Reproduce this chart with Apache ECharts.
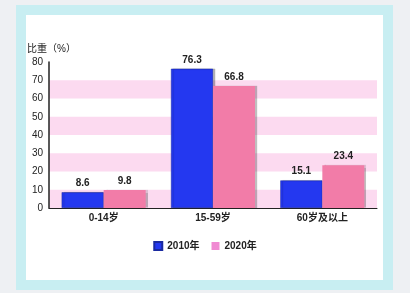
<!DOCTYPE html>
<html><head><meta charset="utf-8">
<script src="https://cdn.jsdelivr.net/npm/echarts@6/dist/echarts.min.js"></script>
<style>
html,body{margin:0;padding:0;background:#eef0f3;}
#frame{position:absolute;left:16px;top:5px;width:377px;height:285px;background:#c8eef2;}
#panel{position:absolute;left:26px;top:15px;width:357px;height:265px;background:#fff;}
#c{position:absolute;left:0;top:0;width:410px;height:293px;}
</style></head>
<body>
<div id="frame"></div><div id="panel"></div>
<div id="c"></div>
<script>
const categories = ['0-14岁', '15-59岁', '60岁及以上'];
const values2010 = [8.6, 76.3, 15.1];
const values2020 = [9.8, 66.8, 23.4];
const seriesNames = ['2010年', '2020年'];
const yTicks = [0, 10, 20, 30, 40, 50, 60, 70, 80];

const chart = echarts.init(document.getElementById('c'));
const fontFam = '"Liberation Sans", "Noto Sans CJK SC", sans-serif';
chart.setOption({
  animation: false,
  textStyle: {fontFamily: fontFam},
  grid: {left: 49, right: 33, top: 62, bottom: 85},
  legend: {
    data: [
      {name: seriesNames[0], itemStyle: {color: '#2438f0'}},
      {name: seriesNames[1], itemStyle: {color: '#f08ad2'}}
    ],
    bottom: 37, left: 'center', itemWidth: 8, itemHeight: 8, itemGap: 12,
    icon: 'rect',
    textStyle: {fontSize: 10, fontWeight: 'bold', color: '#222', fontFamily: fontFam}
  },
  xAxis: {
    type: 'category', data: categories,
    axisLine: {lineStyle: {color: '#222', width: 1}},
    axisTick: {show: false},
    axisLabel: {fontSize: 10, fontWeight: 'bold', color: '#222', margin: 5}
  },
  yAxis: {
    type: 'value', min: yTicks[0], max: yTicks[yTicks.length - 1], interval: 10,
    name: '比重（%）', nameLocation: 'end', nameGap: 8,
    nameTextStyle: {fontSize: 10, color: '#222', align: 'right', padding: [0, -27, 0, 0]},
    axisLine: {show: true, lineStyle: {color: '#222', width: 1.5}},
    axisTick: {show: false},
    splitLine: {show: false},
    splitArea: {show: true, areaStyle: {color: ['#fcdaf0', 'rgba(255,255,255,0)']}},
    axisLabel: {fontSize: 10, color: '#222', margin: 6}
  },
  series: [
    {
      name: seriesNames[0], type: 'bar', data: values2010, barWidth: 42, barGap: '0%',
      itemStyle: {color: '#2438f0', borderColor: '#1a2aa0', borderWidth: 0.5,
        shadowColor: 'rgba(0,0,0,0.25)', shadowOffsetX: 2, shadowBlur: 1},
      label: {show: true, position: 'top', fontSize: 10, fontWeight: 'bold', color: '#222', distance: 4}
    },
    {
      name: seriesNames[1], type: 'bar', data: values2020, barWidth: 42,
      itemStyle: {color: '#f27ca8',
        shadowColor: 'rgba(0,0,0,0.25)', shadowOffsetX: 2, shadowBlur: 1},
      label: {show: true, position: 'top', fontSize: 10, fontWeight: 'bold', color: '#222', distance: 4}
    }
  ]
});
</script>
</body></html>
